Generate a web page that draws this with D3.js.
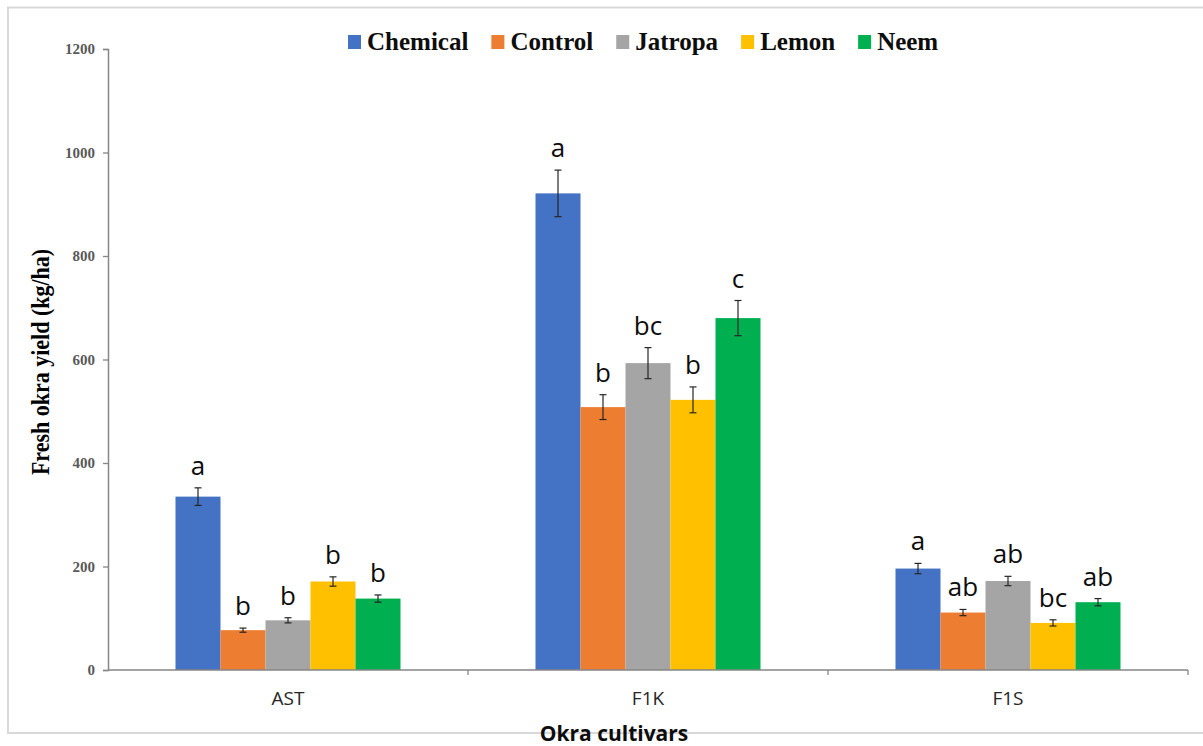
<!DOCTYPE html>
<html lang="en">
<head>
  <meta charset="utf-8">
  <title>Fresh okra yield</title>
  <script src="https://d3js.org/d3.v7.min.js"></script>
  <style type="text/css">
    body { margin: 0; background: #fff; }
  </style>
</head>
<body>
  <script type="text/javascript">

const cultivars = ["AST", "F1K", "F1S"];
const treatments = ["Chemical", "Control", "Jatropa", "Lemon", "Neem"];
const colors = ["#4472C4", "#ED7D31", "#A5A5A5", "#FFC000", "#00B050"];

// mean yield per treatment, in cultivar order
const chemical = [335, 921, 196];
const control  = [77, 508, 111];
const jatropa  = [96, 593, 172];
const lemon    = [171, 522, 91];
const neem     = [138, 680, 131];

// standard errors
const chemicalErr = [17, 45, 10];
const controlErr  = [4, 24, 6];
const jatropaErr  = [5, 30, 9];
const lemonErr    = [9, 25, 6];
const neemErr     = [7, 34, 7];

// significance letters
const chemicalSig = ["a", "a", "a"];
const controlSig  = ["b", "b", "ab"];
const jatropaSig  = ["b", "bc", "ab"];
const lemonSig    = ["b", "b", "bc"];
const neemSig     = ["b", "c", "ab"];

const yTicks = [0, 200, 400, 600, 800, 1000, 1200];

const values = [chemical, control, jatropa, lemon, neem];
const errors = [chemicalErr, controlErr, jatropaErr, lemonErr, neemErr];
const sigs = [chemicalSig, controlSig, jatropaSig, lemonSig, neemSig];

const data = [];
cultivars.forEach((c, i) => {
  treatments.forEach((t, j) => {
    data.push({cultivar: c, treatment: t, value: values[j][i], err: errors[j][i], sig: sigs[j][i], color: colors[j]});
  });
});

const svgWidth = 1203;
const svgHeight = 746;

const svg = d3.select("body")
    .append("svg")
    .attr("width", svgWidth)
    .attr("height", svgHeight);

// outer frame
svg.append("rect")
    .attr("x", 8)
    .attr("y", 7.5)
    .attr("width", 1210)
    .attr("height", 725.5)
    .attr("fill", "none")
    .attr("stroke", "#d9d9d9")
    .attr("stroke-width", 2);

const plotLeft = 108, plotRight = 1188, plotTop = 49, plotBottom = 670;

const yScale = d3.scaleLinear()
    .domain([0, 1200])
    .range([plotBottom, plotTop]);

const x0 = d3.scaleBand()
    .domain(cultivars)
    .range([plotLeft, plotRight])
    .paddingInner(0.375)
    .paddingOuter(0.1875);

const x1 = d3.scaleBand()
    .domain(treatments)
    .range([0, x0.bandwidth()]);

// y axis
const yAxis = d3.axisLeft(yScale)
    .tickValues(yTicks)
    .tickFormat(d3.format("d"))
    .tickSize(5)
    .tickPadding(8);

const yg = svg.append("g")
    .attr("transform", `translate(${plotLeft}, 0)`)
    .call(yAxis);
yg.select(".domain").attr("stroke", "#868686").attr("stroke-width", 1.5);
yg.selectAll(".tick line").attr("stroke", "#868686").attr("stroke-width", 1.3);
yg.selectAll(".tick text")
    .attr("fill", "#595959")
    .style("font-family", "'Liberation Serif', serif")
    .style("font-weight", "bold")
    .style("font-size", "15px");

// bars
svg.selectAll("rect.bar")
    .data(data)
    .enter()
    .append("rect")
    .attr("class", "bar")
    .attr("x", d => x0(d.cultivar) + x1(d.treatment))
    .attr("y", d => yScale(d.value))
    .attr("width", x1.bandwidth())
    .attr("height", d => yScale(0) - yScale(d.value))
    .attr("fill", d => d.color);

// error bars
const eb = svg.selectAll("g.err")
    .data(data)
    .enter()
    .append("g")
    .attr("class", "err")
    .attr("stroke", "#262626")
    .attr("stroke-width", 1.2);

const cx = d => x0(d.cultivar) + x1(d.treatment) + x1.bandwidth() / 2;

eb.append("line")
    .attr("x1", cx).attr("x2", cx)
    .attr("y1", d => yScale(d.value + d.err))
    .attr("y2", d => yScale(d.value - d.err));
eb.append("line")
    .attr("x1", d => cx(d) - 3.5).attr("x2", d => cx(d) + 3.5)
    .attr("y1", d => yScale(d.value + d.err))
    .attr("y2", d => yScale(d.value + d.err));
eb.append("line")
    .attr("x1", d => cx(d) - 3.5).attr("x2", d => cx(d) + 3.5)
    .attr("y1", d => yScale(d.value - d.err))
    .attr("y2", d => yScale(d.value - d.err));

// significance letters
svg.selectAll("text.sig")
    .data(data)
    .enter()
    .append("text")
    .attr("class", "sig")
    .attr("x", cx)
    .attr("y", d => yScale(d.value + d.err) - 13)
    .attr("text-anchor", "middle")
    .attr("fill", "#0d0d0d")
    .style("font-family", "'Open Sans', sans-serif")
    .style("font-size", "26px")
    .text(d => d.sig);

// x axis
const step = x0.step();
const boundaries = cultivars.map(c => x0(c) - x0.paddingOuter() * step + step);
const xg = svg.append("g");
xg.append("line")
    .attr("x1", plotLeft).attr("x2", plotRight)
    .attr("y1", plotBottom).attr("y2", plotBottom)
    .attr("stroke", "#868686")
    .attr("stroke-width", 1.5);
xg.selectAll("line.xtick")
    .data(boundaries)
    .enter()
    .append("line")
    .attr("class", "xtick")
    .attr("x1", d => d).attr("x2", d => d)
    .attr("y1", plotBottom).attr("y2", plotBottom + 5)
    .attr("stroke", "#868686")
    .attr("stroke-width", 1.3);

xg.selectAll("text.xlab")
    .data(cultivars)
    .enter()
    .append("text")
    .attr("class", "xlab")
    .attr("x", d => x0(d) + x0.bandwidth() / 2)
    .attr("y", 705)
    .attr("text-anchor", "middle")
    .attr("fill", "#262626")
    .style("font-family", "'Open Sans', sans-serif")
    .style("font-size", "19px")
    .text(d => d);

// axis titles
svg.append("text")
    .attr("x", 614)
    .attr("y", 741)
    .attr("text-anchor", "middle")
    .attr("fill", "#0d0d0d")
    .style("font-family", "'Open Sans', sans-serif")
    .style("font-weight", "bold")
    .style("font-size", "21px")
    .text("Okra cultivars");

svg.append("text")
    .attr("text-anchor", "middle")
    .attr("transform", `translate(49, 362) scale(1.15, 1) rotate(-90)`)
    .attr("fill", "#000")
    .style("font-family", "'Liberation Serif', serif")
    .style("font-weight", "bold")
    .style("font-size", "22px")
    .text("Fresh okra yield (kg/ha)");

// legend
const legend = svg.append("g").attr("transform", "translate(348, 0)");
let lx = 0;
treatments.forEach((t, j) => {
  const item = legend.append("g").attr("transform", `translate(${lx}, 0)`);
  item.append("rect")
      .attr("x", 0)
      .attr("y", 35)
      .attr("width", 13)
      .attr("height", 14)
      .attr("fill", colors[j]);
  const txt = item.append("text")
      .attr("x", 19)
      .attr("y", 50)
      .attr("fill", "#0d0d0d")
      .style("font-family", "'Liberation Serif', serif")
      .style("font-weight", "bold")
      .style("font-size", "25px")
      .text(t);
  lx += 19 + txt.node().getComputedTextLength() + 23;
});

  </script>
</body>
</html>
